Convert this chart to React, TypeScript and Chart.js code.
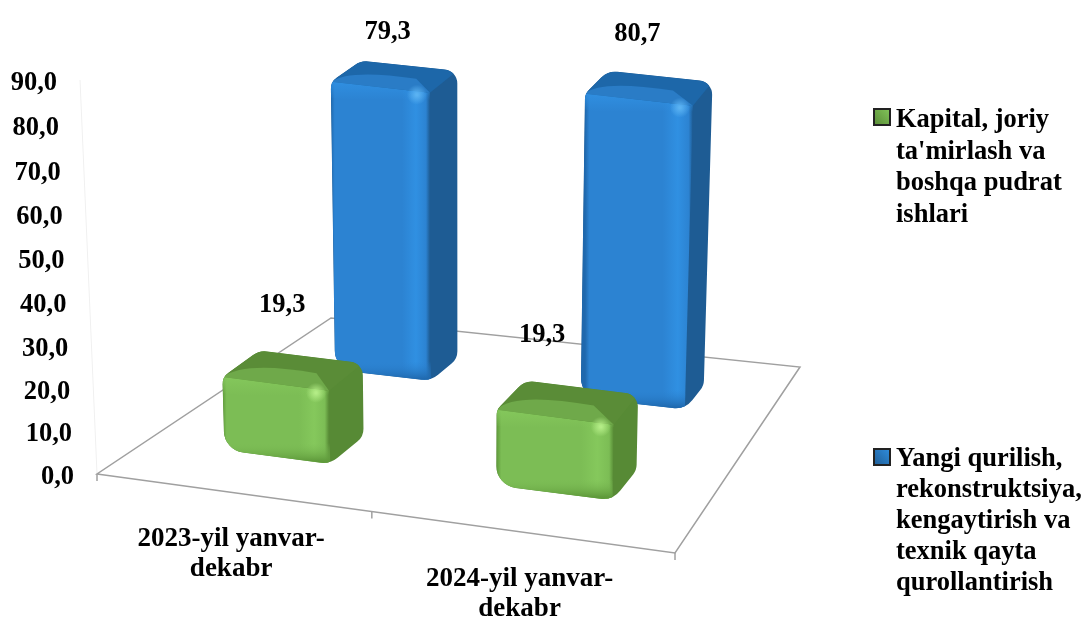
import React, { useEffect, useRef } from "react";
import { Chart, registerables } from "chart.js";

Chart.register(...registerables);

const categories = ["2023-yil yanvar-dekabr", "2024-yil yanvar-dekabr"];
const categoryLines = [["2023-yil yanvar-", "dekabr"], ["2024-yil yanvar-", "dekabr"]];
const seriesNames = [
  "Kapital, joriy ta'mirlash va boshqa pudrat ishlari",
  "Yangi qurilish, rekonstruktsiya, kengaytirish va texnik qayta qurollantirish",
];
const seriesLines = [
  ["Kapital, joriy", "ta'mirlash va", "boshqa pudrat", "ishlari"],
  ["Yangi qurilish,", "rekonstruktsiya,", "kengaytirish va", "texnik qayta", "qurollantirish"],
];
const capitalValues = [19.3, 19.3];
const newBuildValues = [79.3, 80.7];
const yMin = 0;
const yMax = 90;
const yStep = 10;

type Pt = { x: number; y: number };
const FONT = "bold 26.5px 'Liberation Serif'";
const CATEGORY_FONT = "bold 27px 'Liberation Serif'";

// floor of the 3-D box: front-left, front-right, back-right, back-left
const FLOOR: Pt[] = [
  { x: 97, y: 474 },
  { x: 675, y: 553 },
  { x: 800, y: 367 },
  { x: 331, y: 318 },
];
const VANISH = { x: 460, y: 8900 };
const HEIGHT_SCALE = 0.818;
const HEIGHT_GROWTH = 0.075;
const BEVEL = 4;
const DEPTH = [
  { near: 0.18, far: 0.33 },
  { near: 0.67, far: 0.82 },
];
const LABEL_SHIFT = [
  [{ x: -11, y: -65 }, { x: -26, y: -67 }],
  [{ x: -7, y: -44 }, { x: -12, y: -54 }],
];
const PALETTE = [
  { front: "#7cbd55", edge: "#5f9a3b", stripe: "#85c85c", side: "#578a35", top: "#5a8c37", slope: "#6fa94a", spot: "#b3ec86" },
  { front: "#2c83d2", edge: "#1f68ad", stripe: "#3090e2", side: "#1e5c94", top: "#1d67a9", slope: "#2a7cc6", spot: "#5ab2f2" },
];

function floorMap() {
  const [p0, p1, p2, p3] = FLOOR;
  const dx1 = p1.x - p2.x, dx2 = p3.x - p2.x, sx = p0.x - p1.x + p2.x - p3.x;
  const dy1 = p1.y - p2.y, dy2 = p3.y - p2.y, sy = p0.y - p1.y + p2.y - p3.y;
  const det = dx1 * dy2 - dx2 * dy1;
  const g = (sx * dy2 - dx2 * sy) / det;
  const h = (dx1 * sy - sx * dy1) / det;
  const a = p1.x - p0.x + g * p1.x, b = p3.x - p0.x + h * p3.x;
  const d = p1.y - p0.y + g * p1.y, e = p3.y - p0.y + h * p3.y;
  return (u: number, v: number): Pt => {
    const w = g * u + h * v + 1;
    return { x: (a * u + b * v + p0.x) / w, y: (d * u + e * v + p0.y) / w };
  };
}
const project = floorMap();

function raise(p: Pt, z: number): Pt {
  const s = 1 + z / (VANISH.y - p.y);
  return { x: VANISH.x + (p.x - VANISH.x) * s, y: VANISH.y + (p.y - VANISH.y) * s };
}
const mix = (a: Pt, b: Pt, t: number): Pt => ({ x: a.x + (b.x - a.x) * t, y: a.y + (b.y - a.y) * t });
const barHeight = (bar: any, u: number) =>
  (bar.base - bar.y) * HEIGHT_SCALE * (1 + HEIGHT_GROWTH * (u - 0.25)) + BEVEL;

function roundedPath(ctx: CanvasRenderingContext2D, pts: Pt[], radii: number[]) {
  ctx.beginPath();
  const n = pts.length;
  const start = mix(pts[n - 1], pts[0], 0.5);
  ctx.moveTo(start.x, start.y);
  for (let i = 0; i < n; i++) {
    const next = pts[(i + 1) % n];
    ctx.arcTo(pts[i].x, pts[i].y, next.x, next.y, radii[i]);
  }
  ctx.closePath();
}

function polygon(ctx: CanvasRenderingContext2D, pts: Pt[]) {
  ctx.beginPath();
  pts.forEach((p, i) => (i ? ctx.lineTo(p.x, p.y) : ctx.moveTo(p.x, p.y)));
  ctx.closePath();
}

function drawBar(ctx: CanvasRenderingContext2D, u0: number, u1: number, v0: number, v1: number, z: number, c: (typeof PALETTE)[number]) {
  const fl = project(u0, v0), fr = project(u1, v0), br = project(u1, v1), bl = project(u0, v1);
  const tfl = raise(fl, z), tfr = raise(fr, z), tbr = raise(br, z), tbl = raise(bl, z);

  ctx.save();
  roundedPath(ctx, [fl, fr, br, tbr, tbl, tfl], [22, 22, 16, 14, 20, 14]);
  ctx.clip();

  ctx.fillStyle = c.side;
  ctx.fillRect(0, 0, 1082, 617);

  // front face
  const fg = ctx.createLinearGradient(tfl.x, 0, tfr.x, 0);
  fg.addColorStop(0, c.edge);
  fg.addColorStop(0.04, c.front);
  fg.addColorStop(0.72, c.front);
  fg.addColorStop(0.86, c.stripe);
  fg.addColorStop(0.96, c.front);
  fg.addColorStop(1, c.side);
  ctx.fillStyle = fg;
  polygon(ctx, [fl, fr, tfr, tfl]);
  ctx.fill();

  // rounded foot
  const fm = mix(fl, fr, 0.5);
  const foot = ctx.createLinearGradient(0, fm.y - 14, 0, fm.y + 4);
  foot.addColorStop(0, c.front + "00");
  foot.addColorStop(1, c.edge);
  ctx.fillStyle = foot;
  polygon(ctx, [fl, fr, mix(fr, tfr, 0.5), mix(fl, tfl, 0.5)]);
  ctx.fill();

  // roof
  ctx.fillStyle = c.top;
  polygon(ctx, [tfl, tfr, tbr, tbl]);
  ctx.fill();

  const ridgeM = mix(mix(tfl, tfr, 0.72), mix(tbl, tbr, 0.72), 0.5);
  const ridgeL = mix(tfl, tbl, 0.62);
  ctx.fillStyle = c.slope;
  ctx.beginPath();
  ctx.moveTo(tfl.x, tfl.y);
  ctx.quadraticCurveTo(ridgeL.x, ridgeL.y, ridgeM.x, ridgeM.y);
  ctx.lineTo(tfr.x, tfr.y);
  ctx.closePath();
  ctx.fill();

  // light edge of the front top
  const band = ctx.createLinearGradient(0, tfl.y - 2, 0, tfl.y + 18);
  band.addColorStop(0, c.stripe);
  band.addColorStop(1, c.stripe + "00");
  ctx.fillStyle = band;
  const offs = { x: 0, y: 16 };
  polygon(ctx, [tfl, tfr, { x: tfr.x + offs.x, y: tfr.y + offs.y }, { x: tfl.x + offs.x, y: tfl.y + offs.y }]);
  ctx.fill();

  // highlight at the corner
  const spotAt = { x: tfr.x - 13, y: tfr.y + 2 };
  const sg = ctx.createRadialGradient(spotAt.x, spotAt.y, 1, spotAt.x, spotAt.y, 10);
  sg.addColorStop(0, c.spot);
  sg.addColorStop(1, c.spot + "00");
  ctx.fillStyle = sg;
  ctx.fillRect(spotAt.x - 12, spotAt.y - 12, 24, 24);
  ctx.restore();
}

const fmt = (v: number) => v.toFixed(1).replace(".", ",");

const scene3d = {
  id: "scene3d",
  beforeDatasetsDraw(chart: any) {
    const { ctx } = chart;
    const y = chart.scales.y;
    const top = raise(FLOOR[0], y.getPixelForValue(yMin) - y.getPixelForValue(yMax));
    ctx.save();
    ctx.strokeStyle = "#f0f0f0";
    ctx.lineWidth = 1;
    ctx.beginPath();
    ctx.moveTo(FLOOR[0].x, FLOOR[0].y);
    ctx.lineTo(top.x, top.y);
    ctx.stroke();
    ctx.strokeStyle = "#a0a0a0";
    ctx.lineWidth = 1.5;
    polygon(ctx, FLOOR);
    ctx.stroke();
    [0, 0.5, 1].forEach((u) => {
      const p = project(u, 0);
      ctx.beginPath();
      ctx.moveTo(p.x, p.y);
      ctx.lineTo(p.x, p.y + 7);
      ctx.stroke();
    });
    ctx.restore();
  },
  beforeDatasetDraw(chart: any, args: any) {
    const { ctx, chartArea } = chart;
    const meta = chart.getDatasetMeta(args.index);
    const w = chartArea.right - chartArea.left;
    meta.data.forEach((bar: any) => {
      const u = (bar.x - chartArea.left) / w;
      const du = bar.width / 2 / w;
      const d = DEPTH[args.index];
      drawBar(ctx, u - du, u + du, d.near, d.far, barHeight(bar, u), PALETTE[args.index]);
    });
    return false;
  },
  afterDatasetsDraw(chart: any) {
    const { ctx, chartArea } = chart;
    const y = chart.scales.y;
    const x = chart.scales.x;
    const w = chartArea.right - chartArea.left;
    const base = y.getPixelForValue(yMin);
    const top = raise(FLOOR[0], base - y.getPixelForValue(yMax));
    ctx.save();
    ctx.font = FONT;
    ctx.fillStyle = "#000";

    // value axis, following the slanted wall
    ctx.textAlign = "right";
    ctx.textBaseline = "middle";
    y.ticks.forEach((t: any) => {
      const f = (t.value - yMin) / (yMax - yMin);
      const py = y.getPixelForValue(t.value) + 14 * f * (1 - f);
      const wallX = FLOOR[0].x + (top.x - FLOOR[0].x) * f;
      ctx.fillText(fmt(t.value), wallX - 23, py + 2);
    });

    // category axis, following the front edge
    ctx.textAlign = "center";
    ctx.font = CATEGORY_FONT;
    categoryLines.forEach((lines, i) => {
      const p = project((x.getPixelForValue(i) - chartArea.left) / w, 0);
      lines.forEach((line, k) => {
        ctx.fillText(line, p.x, p.y + 47 + k * 30);
      });
    });
    ctx.font = FONT;

    // value labels over the bars
    chart.data.datasets.forEach((ds: any, di: number) => {
      const d = DEPTH[di];
      chart.getDatasetMeta(di).data.forEach((bar: any, i: number) => {
        const u = (bar.x - chartArea.left) / w;
        const c = raise(project(u, (d.near + d.far) / 2), barHeight(bar, u));
        const s = LABEL_SHIFT[di][i];
        ctx.fillText(fmt(ds.data[i]), c.x + s.x, c.y + s.y);
      });
    });

    // legend
    ctx.textAlign = "left";
    ctx.textBaseline = "alphabetic";
    [{ box: 108, first: 127, pitch: 31.5 }, { box: 448, first: 466, pitch: 31 }].forEach((row, i) => {
      const g = ctx.createLinearGradient(873, row.box + 17, 891, row.box);
      g.addColorStop(0, PALETTE[i].side);
      g.addColorStop(1, PALETTE[i].stripe);
      ctx.fillStyle = "#222";
      ctx.fillRect(873, row.box, 18, 18);
      ctx.fillStyle = g;
      ctx.fillRect(875, row.box + 2, 14, 14);
      ctx.fillStyle = "#000";
      seriesLines[i].forEach((line, k) => ctx.fillText(line, 896, row.first + k * row.pitch));
    });
    ctx.restore();
  },
};

export default function App() {
  const ref = useRef<HTMLCanvasElement>(null);
  useEffect(() => {
    const chart = new Chart(ref.current!, {
      type: "bar",
      data: {
        labels: categories,
        datasets: [
          { label: seriesNames[0], data: capitalValues, backgroundColor: PALETTE[0].front },
          { label: seriesNames[1], data: newBuildValues, backgroundColor: PALETTE[1].front },
        ],
      },
      options: {
        responsive: false,
        animation: false,
        devicePixelRatio: 1,
        layout: { padding: { left: 97, right: 407, top: 81, bottom: 134 } },
        plugins: { legend: { display: false }, tooltip: { enabled: false } },
        datasets: { bar: { grouped: false, categoryPercentage: 1, barPercentage: 0.4 } },
        scales: {
          x: { grid: { display: false }, border: { display: false }, ticks: { display: false } },
          y: {
            min: yMin,
            max: yMax,
            ticks: { stepSize: yStep, display: false },
            grid: { display: false },
            border: { display: false },
          },
        },
      } as any,
      plugins: [scene3d],
    });
    return () => chart.destroy();
  }, []);
  return (
    <div style={{ position: "absolute", left: 0, top: 0, width: 1082, height: 617, background: "#fff" }}>
      <canvas ref={ref} width={1082} height={617} style={{ display: "block" }} />
    </div>
  );
}
